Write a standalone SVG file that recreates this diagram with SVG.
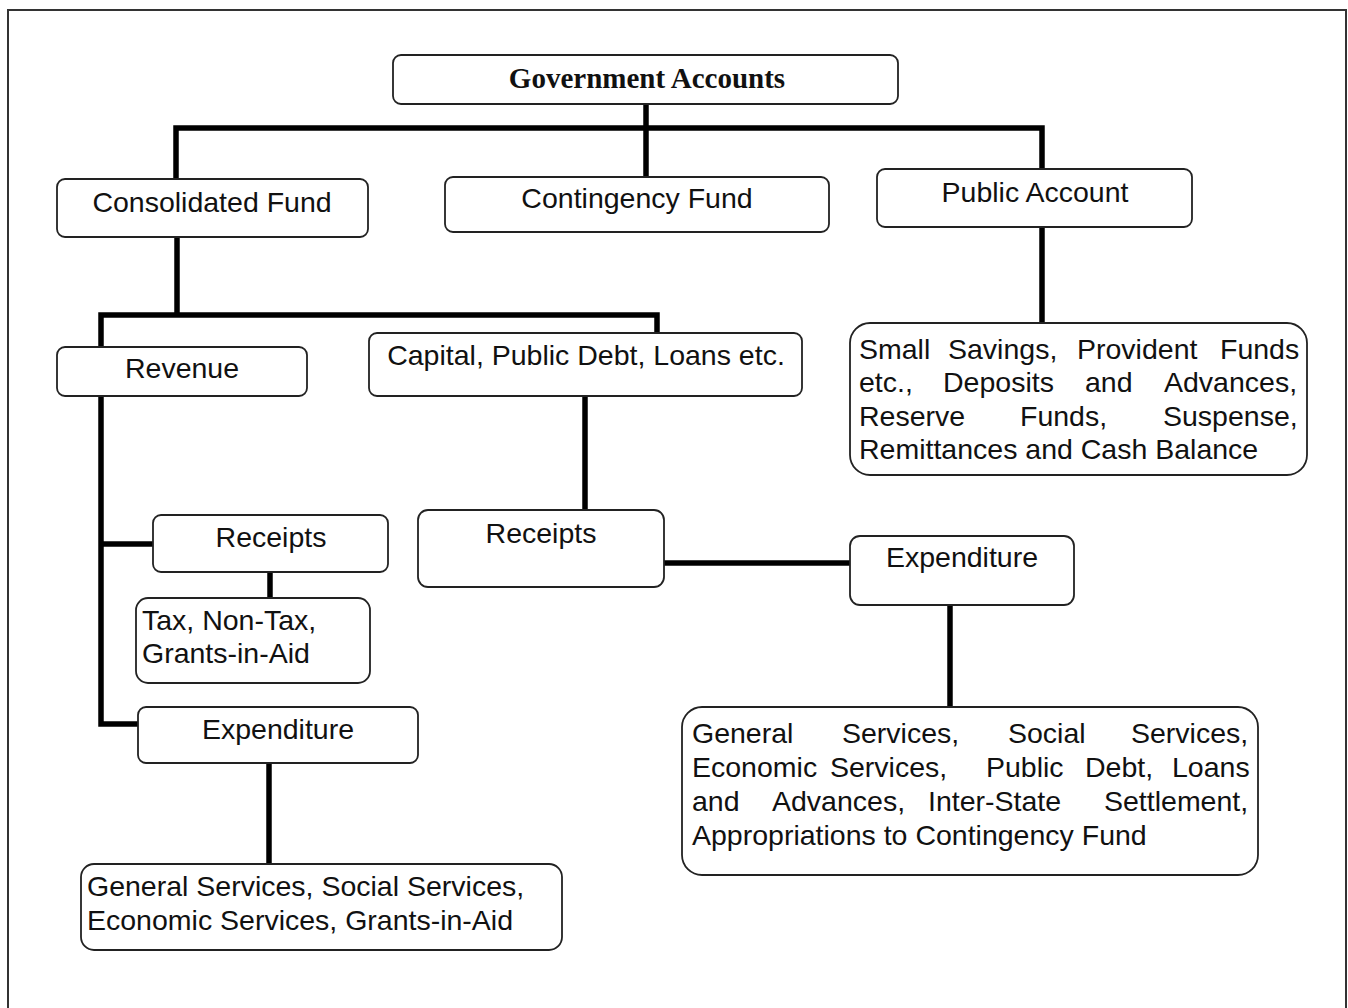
<svg xmlns="http://www.w3.org/2000/svg" width="1348" height="1008" viewBox="0 0 1348 1008">
<style>
.bg{fill:#ffffff}
.frame{fill:none;stroke:#333;stroke-width:2}
.box{fill:#fff;stroke:#222;stroke-width:1.8}
.conn{fill:none;stroke:#000;stroke-width:5.5;stroke-linejoin:miter}
.t{font-family:"Liberation Sans",Arial,Helvetica,sans-serif;font-size:28.5px;fill:#111}
.c{text-anchor:middle}
.title{font-family:"Liberation Serif","Times New Roman",serif;font-size:29px;font-weight:bold;fill:#111;text-anchor:middle}
</style>
<rect class="bg" x="0" y="0" width="1348" height="1008"/>
<path class="frame" d="M8 1010 V10 H1346 V1010"/>
<g id="connectors">
<path class="conn" d="M646 104 V177"/>
<path class="conn" d="M176 179 V128 H1042 V169"/>
<path class="conn" d="M177 237 V315"/>
<path class="conn" d="M101 347 V315 H657 V333"/>
<path class="conn" d="M101 396 V724 H138"/>
<path class="conn" d="M101 544 H153"/>
<path class="conn" d="M270 572 V598"/>
<path class="conn" d="M269 763 V864"/>
<path class="conn" d="M585 396 V510"/>
<path class="conn" d="M664 563 H850"/>
<path class="conn" d="M950 605 V707"/>
<path class="conn" d="M1042 227 V323"/>
</g>
<g id="government-accounts">
<rect class="box" x="393" y="55" width="505" height="49" rx="8"/>
<text class="title" x="647" y="88">Government Accounts</text>
</g>
<g id="consolidated-fund">
<rect class="box" x="57" y="179" width="311" height="58" rx="8"/>
<text class="t c" x="212" y="212">Consolidated Fund</text>
</g>
<g id="contingency-fund">
<rect class="box" x="445" y="177" width="384" height="55" rx="8"/>
<text class="t c" x="637" y="208">Contingency Fund</text>
</g>
<g id="public-account">
<rect class="box" x="877" y="169" width="315" height="58" rx="8"/>
<text class="t c" x="1035" y="202">Public Account</text>
</g>
<g id="public-account-detail">
<rect class="box" x="850" y="323" width="457" height="152" rx="20"/>
<text class="t" y="359"><tspan x="859">Small</tspan><tspan x="948">Savings,</tspan><tspan x="1077">Provident</tspan><tspan x="1220">Funds</tspan></text>
<text class="t" y="392"><tspan x="859">etc.,</tspan><tspan x="943">Deposits</tspan><tspan x="1085">and</tspan><tspan x="1164">Advances,</tspan></text>
<text class="t" y="426"><tspan x="859">Reserve</tspan><tspan x="1020">Funds,</tspan><tspan x="1163">Suspense,</tspan></text>
<text class="t" x="859" y="459">Remittances and Cash Balance</text>
</g>
<g id="revenue">
<rect class="box" x="57" y="347" width="250" height="49" rx="8"/>
<text class="t c" x="182" y="378">Revenue</text>
</g>
<g id="capital">
<rect class="box" x="369" y="333" width="433" height="63" rx="8"/>
<text class="t c" x="586" y="365">Capital, Public Debt, Loans etc.</text>
</g>
<g id="revenue-receipts">
<rect class="box" x="153" y="515" width="235" height="57" rx="8"/>
<text class="t c" x="271" y="547">Receipts</text>
</g>
<g id="revenue-receipts-detail">
<rect class="box" x="136" y="598" width="234" height="85" rx="12"/>
<text class="t" x="142" y="630">Tax, Non-Tax,</text>
<text class="t" x="142" y="663">Grants-in-Aid</text>
</g>
<g id="revenue-expenditure">
<rect class="box" x="138" y="707" width="280" height="56" rx="8"/>
<text class="t c" x="278" y="739">Expenditure</text>
</g>
<g id="revenue-expenditure-detail">
<rect class="box" x="81" y="864" width="481" height="86" rx="13"/>
<text class="t" x="87" y="896">General Services, Social Services,</text>
<text class="t" x="87" y="930">Economic Services, Grants-in-Aid</text>
</g>
<g id="capital-receipts">
<rect class="box" x="418" y="510" width="246" height="77" rx="10"/>
<text class="t c" x="541" y="543">Receipts</text>
</g>
<g id="capital-expenditure">
<rect class="box" x="850" y="536" width="224" height="69" rx="10"/>
<text class="t c" x="962" y="567">Expenditure</text>
</g>
<g id="capital-expenditure-detail">
<rect class="box" x="682" y="707" width="576" height="168" rx="20"/>
<text class="t" y="743"><tspan x="692">General</tspan><tspan x="842">Services,</tspan><tspan x="1008">Social</tspan><tspan x="1131">Services,</tspan></text>
<text class="t" y="777"><tspan x="692">Economic</tspan><tspan x="830">Services,</tspan><tspan x="986">Public</tspan><tspan x="1085">Debt,</tspan><tspan x="1172">Loans</tspan></text>
<text class="t" y="811"><tspan x="692">and</tspan><tspan x="772">Advances,</tspan><tspan x="928">Inter-State</tspan><tspan x="1104">Settlement,</tspan></text>
<text class="t" x="692" y="845">Appropriations to Contingency Fund</text>
</g>
</svg>
